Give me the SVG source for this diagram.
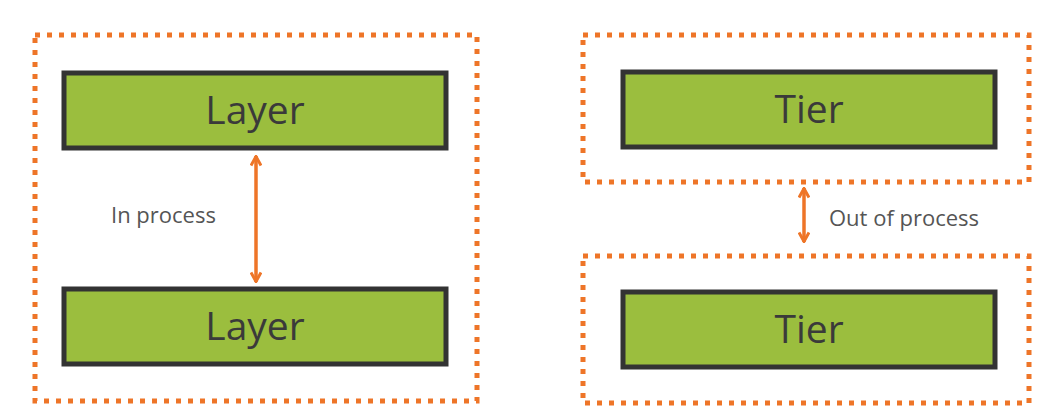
<svg xmlns="http://www.w3.org/2000/svg" width="1040" height="413" viewBox="0 0 1040 413">
<style>
.frame{fill:none;stroke:#ee7528;stroke-width:5;stroke-dasharray:5 7}
.node rect{fill:#9bbe3e;stroke:#333333;stroke-width:5}
.node text{font-family:"Open Sans","Noto Sans",sans-serif;font-size:39px;fill:#3a3a3a;text-anchor:middle}
.lbl{font-family:"Open Sans","Noto Sans",sans-serif;font-size:22px;fill:#555555}
.conn line{stroke:#ee7528;stroke-width:3.5;marker-start:url(#ah);marker-end:url(#ah)}
</style>
<defs>
<marker id="ah" viewBox="0 0 12 12" refX="11" refY="6" markerWidth="12" markerHeight="12" markerUnits="userSpaceOnUse" orient="auto-start-reverse">
<polyline points="1.5,1 10.5,6 1.5,11" fill="none" stroke="#ee7528" stroke-width="3" stroke-linejoin="miter"/>
</marker>
</defs>
<rect class="frame" x="35" y="35" width="442" height="366"/>
<rect class="frame" x="583" y="35" width="446" height="147"/>
<rect class="frame" x="583" y="256" width="446" height="147"/>
<g id="layer1" class="node"><rect x="64" y="73" width="382" height="75"/><text x="255" y="124">Layer</text></g>
<g id="layer2" class="node"><rect x="64" y="289" width="382" height="75"/><text x="255" y="340">Layer</text></g>
<g id="tier1" class="node"><rect x="623" y="72" width="372" height="75"/><text x="809" y="123">Tier</text></g>
<g id="tier2" class="node"><rect x="623" y="292" width="372" height="75"/><text x="809" y="343">Tier</text></g>
<g id="connectors" class="conn">
<line x1="256" y1="156" x2="256" y2="282"/>
<line x1="804" y1="188" x2="804" y2="242"/>
</g>
<text class="lbl" x="111" y="223">In process</text>
<text class="lbl" x="829" y="226">Out of process</text>
</svg>
